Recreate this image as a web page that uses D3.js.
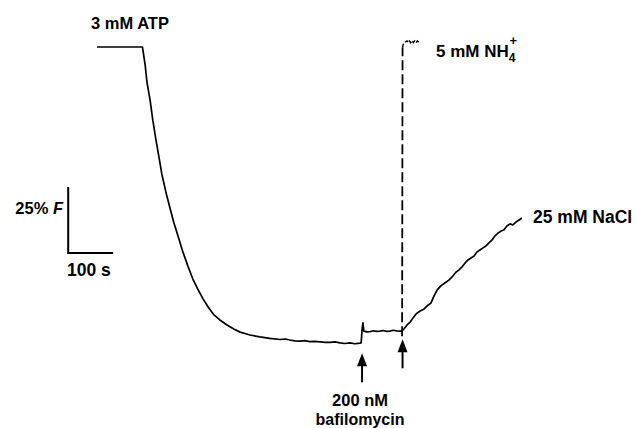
<!DOCTYPE html>
<html><head><meta charset="utf-8">
<script src="https://cdn.jsdelivr.net/npm/d3@7"></script>
<style>
html,body{margin:0;padding:0;background:#fff;}
svg{display:block;}
text{font-family:"Liberation Sans",Arial,Helvetica,sans-serif;font-weight:bold;fill:#000;}
</style></head>
<body>
<svg id="chart" width="636" height="428"></svg>
<script>
// ---- data (time in s, fluorescence change in % F) ----
const traceTime = [0,101,107,111,118,124,131,138,144,153,162,171,180,191,202,213,224,236,247,260,273,289,304,318,340,362,384,
  407,418,429,440,451,462,473,484,496,507,518,529,540,551,562,573,580,587,589,591,593,600,607,614,622,629,636,644,651,658,666,673,678];
const traceF = [0,0,-6.8,-13.3,-20.1,-27.7,-35.2,-42.0,-48.1,-54.9,-60.9,-66.7,-71.6,-77.7,-83.0,-87.9,-91.7,-95.5,-98.5,-101.5,-103.4,-105.3,-106.8,-108.0,-109.1,-109.8,-110.4,
  -110.8,-110.6,-111.0,-111.3,-111.4,-111.2,-111.6,-111.5,-111.7,-111.9,-111.9,-111.7,-112.1,-112.3,-112.1,-112.4,-112.3,-112.1,-107.2,-104.5,-107.6,-107.9,-107.8,-107.5,-107.7,-107.6,-107.4,-107.7,-107.6,-107.3,-107.5,-107.6,-107.6];

const nh4Time = [678,679,680,682,685,689,692,694,697,700,703,706,709,712,715,718];
const nh4F = [-109.6,-0.2,0.8,1.5,1.9,2.3,1.7,2.3,1.6,2.4,1.7,2.3,1.6,2.3,1.8,2.2];

const naclTime = [678,682,689,696,702,709,718,727,736,742,749,756,764,773,782,789,798,804,811,818,824,831,838,844,851,858,864,871,878,884,891,898,904,911,918,924,931,938,944];
const naclF = [-107.6,-106.8,-105.3,-104.2,-102.7,-101.1,-100.0,-99.2,-97.7,-97.0,-94.3,-92.0,-90.5,-89.4,-88.3,-87.1,-85.2,-84.5,-83.3,-81.8,-80.7,-79.9,-79.2,-77.7,-76.9,-76.1,-75.4,-74.2,-73.1,-71.6,-70.5,-69.7,-69.3,-67.8,-67.0,-67.4,-66.3,-65.5,-64.8];

// scale bar: 100 s by 25 % F
const scaleBarTime = [-64, 36];
const scaleBarF = [-53, -78];

// additions marked by arrows (time of addition, tip level, tail level)
const arrowTime = [589, 679];
const arrowTipF = [-116.0, -110.7];
const arrowTailF = [-127.0, -121.7];

// labels
const labelText = ["3 mM ATP", "25 mM NaCl", "200 nM", "bafilomycin", "100 s"];

// ---- scales ----
const x = d3.scaleLinear().domain([0, 100]).range([97, 142]);
const y = d3.scaleLinear().domain([0, -25]).range([47, 113]);

const svg = d3.select("#chart");
const line = d3.line().x(d => x(d[0])).y(d => y(d[1]));

// main trace
svg.append("path")
  .datum(d3.zip(traceTime, traceF))
  .attr("d", line)
  .attr("fill", "none").attr("stroke", "#000").attr("stroke-width", 1.7)
  .attr("stroke-linejoin", "round");

// NH4 trace (dashed rise, then wiggly plateau)
const nh4 = d3.zip(nh4Time, nh4F);
svg.append("path")
  .datum(nh4.slice(0, 2))
  .attr("d", line)
  .attr("fill", "none").attr("stroke", "#000").attr("stroke-width", 1.8)
  .attr("stroke-dasharray", "10,4");
svg.append("path")
  .datum(nh4.slice(1))
  .attr("d", line)
  .attr("fill", "none").attr("stroke", "#000").attr("stroke-width", 1.4)
  .attr("stroke-dasharray", "4,2");

// NaCl trace
svg.append("path")
  .datum(d3.zip(naclTime, naclF))
  .attr("d", line)
  .attr("fill", "none").attr("stroke", "#000").attr("stroke-width", 1.7)
  .attr("stroke-linejoin", "round");

// scale bar
svg.append("path")
  .attr("d", `M${x(scaleBarTime[0])},${y(scaleBarF[0])}V${y(scaleBarF[1])}H${x(scaleBarTime[1])}`)
  .attr("fill", "none").attr("stroke", "#000").attr("stroke-width", 2);

// arrows
arrowTime.forEach((t, i) => {
  const ax = x(t), tip = y(arrowTipF[i]), tail = y(arrowTailF[i]);
  svg.append("line").attr("x1", ax).attr("x2", ax).attr("y1", tip + 8).attr("y2", tail)
    .attr("stroke", "#000").attr("stroke-width", 2);
  svg.append("path")
    .attr("d", `M${ax},${tip}L${ax - 5},${tip + 13}L${ax + 5},${tip + 13}Z`)
    .attr("fill", "#000");
});

// labels
svg.append("text").attr("x", 91).attr("y", 29).attr("font-size", 16.5).text(labelText[0]);

const nh = svg.append("text").attr("x", 436).attr("y", 57).attr("font-size", 17);
nh.append("tspan").text("5 mM NH");
nh.append("tspan").attr("font-size", 12).attr("dy", 5).text("4");
nh.append("tspan").attr("font-size", 13).attr("dx", -6).attr("dy", -17).text("+");

svg.append("text").attr("x", 533).attr("y", 223).attr("font-size", 17.5).text(labelText[1]);

const fl = svg.append("text").attr("x", 63).attr("y", 214).attr("font-size", 16.5).attr("text-anchor", "end");
fl.append("tspan").text("25% ");
fl.append("tspan").attr("font-style", "italic").text("F");

svg.append("text").attr("x", 67).attr("y", 276).attr("font-size", 17.5).text(labelText[4]);

svg.append("text").attr("x", 360).attr("y", 406).attr("font-size", 16.5).attr("text-anchor", "middle").text(labelText[2]);
svg.append("text").attr("x", 360).attr("y", 425).attr("font-size", 16).attr("text-anchor", "middle").text(labelText[3]);
</script>
</body></html>
